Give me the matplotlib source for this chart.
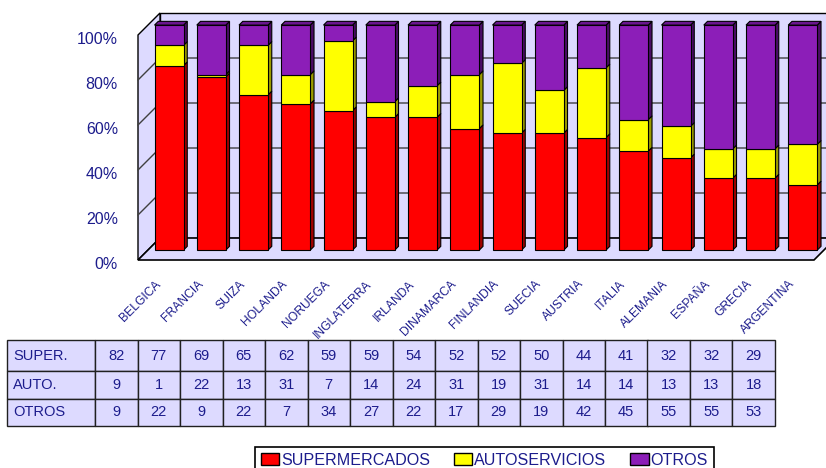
import matplotlib.pyplot as plt
from matplotlib.patches import Polygon, Patch
from matplotlib.transforms import ScaledTranslation

plt.rcParams["font.family"] = ["Liberation Sans", "DejaVu Sans"]

countries = ["BELGICA", "FRANCIA", "SUIZA", "HOLANDA", "NORUEGA", "INGLATERRA",
             "IRLANDA", "DINAMARCA", "FINLANDIA", "SUECIA", "AUSTRIA", "ITALIA",
             "ALEMANIA", "ESPAÑA", "GRECIA", "ARGENTINA"]
super_pct = [82, 77, 69, 65, 62, 59, 59, 54, 52, 52, 50, 44, 41, 32, 32, 29]
auto_pct = [9, 1, 22, 13, 31, 7, 14, 24, 31, 19, 31, 14, 14, 13, 13, 18]
otros_pct = [9, 22, 9, 22, 7, 34, 27, 22, 17, 29, 19, 42, 45, 55, 55, 53]
row_labels = ["SUPER.", "AUTO.", "OTROS"]
series_names = ["SUPERMERCADOS", "AUTOSERVICIOS", "OTROS"]
y_ticks = [0, 20, 40, 60, 80, 100]

NAVY = "#1c1c8c"
WALL = "#dddaff"
faces = [("#ff0000", "#a00000", "#c80000"),
         ("#ffff00", "#9c9c00", "#cccc00"),
         ("#8c1eb8", "#4a0c66", "#6a168e")]

W, H = 826, 468
PX_CAT = 42.25   # pixels per category
PX_PCT = 2.25    # pixels per percent
DEPTH_X = 22 / PX_CAT
DEPTH_Y = 22 / PX_PCT
D0, D1 = 0.45, 0.62   # bar depth range
BAR_W = 29 / PX_CAT
n = len(countries)


def proj(x, y, d):
    return (x + d * DEPTH_X, y + d * DEPTH_Y)


def poly(ax, pts, fc, ec="black", lw=0.8, z=1):
    ax.add_patch(Polygon(pts, closed=True, facecolor=fc, edgecolor=ec,
                         linewidth=lw, zorder=z, clip_on=False))


fig = plt.figure(figsize=(W / 100, H / 100), dpi=100)

# main 3d-ish chart axes, x=-0.5 at px 138, y=0 at px 260
x_lo, x_hi, y_hi = -0.5, 16.3, 112
ax = fig.add_axes([138 / W, (H - 260) / H,
                   (x_hi - x_lo) * PX_CAT / W, y_hi * PX_PCT / H])
ax.set_xlim(x_lo, x_hi)
ax.set_ylim(0, y_hi)
for s in ax.spines.values():
    s.set_visible(False)
ax.patch.set_visible(False)

left, right = -0.5, n - 0.5
# back wall, side wall, floor
poly(ax, [proj(left, 0, 1), proj(right, 0, 1), proj(right, 100, 1), proj(left, 100, 1)],
     WALL, lw=1.0, z=0)
poly(ax, [proj(left, 0, 0), proj(left, 0, 1), proj(left, 100, 1), proj(left, 100, 0)],
     WALL, lw=1.0, z=0)
poly(ax, [proj(left, 0, 0), proj(right, 0, 0), proj(right, 0, 1), proj(left, 0, 1)],
     WALL, lw=1.2, z=0)
for t in y_ticks[1:-1]:
    xs, ys = zip(proj(left, t, 0), proj(left, t, 1), proj(right, t, 1))
    ax.plot(xs, ys, color="#404040", lw=1.0, zorder=0.5, clip_on=False)

# stacked bars
for i in range(n):
    bottom = 0
    vals = [super_pct[i], auto_pct[i], otros_pct[i]]
    for k, h in enumerate(vals):
        front, side, top = faces[k]
        x0, x1 = i - BAR_W / 2, i + BAR_W / 2
        y0, y1 = bottom, bottom + h
        poly(ax, [proj(x1, y0, D0), proj(x1, y0, D1), proj(x1, y1, D1), proj(x1, y1, D0)],
             side, z=2)
        poly(ax, [proj(x0, y0, D0), proj(x1, y0, D0), proj(x1, y1, D0), proj(x0, y1, D0)],
             front, z=3)
        if k == len(vals) - 1:
            poly(ax, [proj(x0, y1, D0), proj(x1, y1, D0), proj(x1, y1, D1), proj(x0, y1, D1)],
                 top, z=3)
        bottom = y1

ax.tick_params(axis="y", length=0, pad=14.4)
ax.tick_params(axis="x", length=0, pad=16)
ax.set_yticks(y_ticks)
ax.set_yticklabels([f"{t}%" for t in y_ticks], fontsize=11.5, color=NAVY)
ax.set_xticks(range(n))
ax.set_xticklabels(countries, rotation=45, ha="right", va="center",
                   rotation_mode="anchor", fontsize=8.7, color=NAVY)
shift = ScaledTranslation(0, -3 / 100, fig.dpi_scale_trans)
for lab in ax.get_yticklabels():
    lab.set_transform(lab.get_transform() + shift)

# data table under the chart
ax_t = fig.add_axes([7 / W, (H - 426) / H, (775 - 7) / W, (426 - 340) / H])
ax_t.axis("off")
cells = [[lab] + [str(v) for v in vals]
         for lab, vals in zip(row_labels, [super_pct, auto_pct, otros_pct])]
col_w = [88] + [(775 - 95) / n] * n
table = ax_t.table(cellText=cells, cellLoc="center", colWidths=col_w,
                   bbox=[0, 0, 1, 1])
table.auto_set_font_size(False)
table.set_fontsize(10.5)
for (r, c), cell in table.get_celld().items():
    cell.set_facecolor(WALL)
    cell.set_edgecolor("#202020")
    cell.set_linewidth(1.0)
    cell.get_text().set_color(NAVY)
    if c == 0:
        cell.get_text().set_horizontalalignment("left")
        cell.PAD = 0.07
    if r == 0:
        cell.set_height(cell.get_height() * 1.15)

# legend
handles = [Patch(facecolor=f[0], edgecolor="black", label=name)
           for f, name in zip(faces, series_names)]
leg = fig.legend(handles=handles, ncol=3, loc="upper left",
                 bbox_to_anchor=(255 / W, 1 - 447 / H), fontsize=11.6,
                 frameon=True, fancybox=False, edgecolor="black", framealpha=1,
                 handlelength=1.15, handleheight=0.75, handletextpad=0.1,
                 columnspacing=1.5, borderpad=0.35, borderaxespad=0)
leg.get_frame().set_linewidth(1.2)
for txt in leg.get_texts():
    txt.set_color(NAVY)

fig.savefig("out.png", dpi=100)
